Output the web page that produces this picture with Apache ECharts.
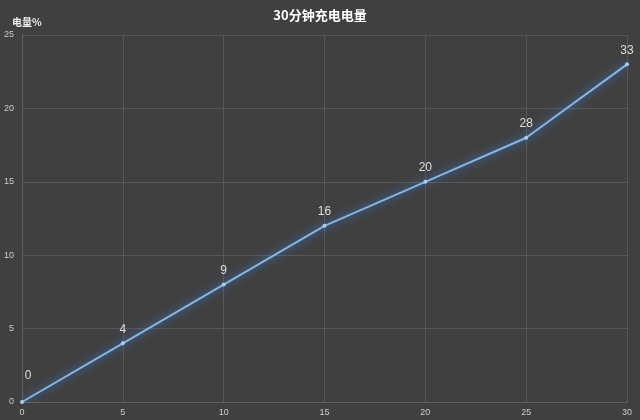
<!DOCTYPE html>
<html><head><meta charset="utf-8">
<script src="https://cdn.jsdelivr.net/npm/echarts@6/dist/echarts.min.js"></script>
<style>html,body{margin:0;padding:0;background:#404040;}#c{width:640px;height:420px;}</style>
</head><body><div id="c"></div>
<script>
var minutes = [0, 5, 10, 15, 20, 25, 30];
var levels = [0, 4, 8, 12, 15, 18, 23];
var labelTexts = ['0', '4', '9', '16', '20', '28', '33'];
var xTicks = [0, 5, 10, 15, 20, 25, 30];
var yTicks = [0, 5, 10, 15, 20, 25];

var chart = echarts.init(document.getElementById('c'));
var data = minutes.map(function (m, i) {
  var d = { value: [m, levels[i]] };
  if (i === 0) d.label = { offset: [6, -12] };
  return d;
});
chart.setOption({
  backgroundColor: '#404040',
  animation: false,
  title: {
    text: '30分钟充电电量', left: 'center', top: 4,
    textStyle: { color: '#ffffff', fontSize: 13, fontWeight: 'bold', fontFamily: 'Noto Sans CJK SC' }
  },
  grid: { left: 22, right: 13, top: 35, bottom: 18, containLabel: false },
  xAxis: {
    type: 'value', min: xTicks[0], max: xTicks[xTicks.length - 1], interval: 5,
    axisLine: { lineStyle: { color: '#606060', width: 1 } },
    axisTick: { show: false },
    axisLabel: { color: '#cccccc', fontSize: 9, margin: 6 },
    splitLine: { show: true, lineStyle: { color: '#585858', width: 1 } }
  },
  yAxis: {
    type: 'value', min: yTicks[0], max: yTicks[yTicks.length - 1], interval: 5,
    name: '电量%', nameLocation: 'end', nameGap: 8,
    nameTextStyle: { color: '#eeeeee', fontSize: 10, fontWeight: 'bold', fontFamily: 'Noto Sans CJK SC', align: 'left', padding: [0, 0, 0, -10] },
    axisLine: { show: true, lineStyle: { color: '#606060', width: 1 } },
    axisTick: { show: false },
    axisLabel: { color: '#cccccc', fontSize: 9, margin: 8 },
    splitLine: { show: true, lineStyle: { color: '#585858', width: 1 } }
  },
  series: [{
    type: 'line',
    data: data,
    symbol: 'circle', symbolSize: 4,
    itemStyle: { color: '#a8ccf0' },
    lineStyle: { color: '#85b6e6', width: 2, shadowColor: 'rgba(60,140,235,1)', shadowBlur: 9 },
    label: {
      show: true, position: 'top', distance: 6,
      color: '#dddddd', fontSize: 12,
      formatter: function (p) { return labelTexts[p.dataIndex]; }
    }
  }]
});
</script></body></html>
